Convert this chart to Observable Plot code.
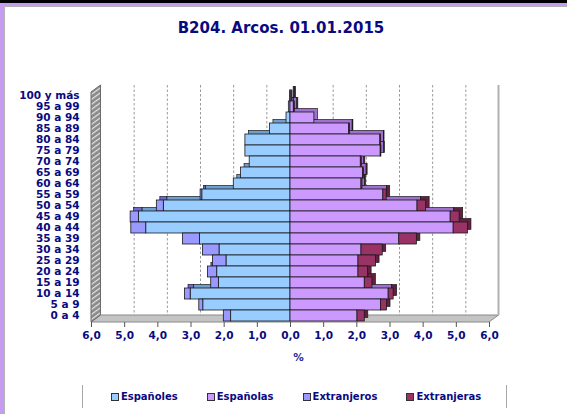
<!DOCTYPE html>
<html>
<head>
<meta charset="utf-8">
<script src="https://cdn.jsdelivr.net/npm/d3@7"></script>
<script src="https://cdn.jsdelivr.net/npm/@observablehq/plot@0.6"></script>
<style>
  html, body { margin: 0; padding: 0; background: #fff; }
  #wrap { position: relative; width: 567px; height: 414px; overflow: hidden; background: #fff;
          font-family: "DejaVu Sans", sans-serif; font-weight: bold; }
  .bar-top-black { position: absolute; left: 0; top: 0; width: 567px; height: 3px; background: #000; }
  .bar-top-lilac { position: absolute; left: 0; top: 3px; width: 567px; height: 3px; background: #c59cf2; }
  .bar-top-grey { position: absolute; left: 4px; top: 6px; width: 563px; height: 1px; background: #b4b4b4; }
  .bar-left-lilac { position: absolute; left: 0; top: 3px; width: 4px; height: 411px; background: #c59cf2; }
  .bar-left-grey { position: absolute; left: 4px; top: 6px; width: 1px; height: 408px; background: #b4b4b4; }
  #title { position: absolute; left: 0; top: 19px; width: 562px; text-align: center;
           font-size: 15px; line-height: 18px; color: #0a0a80; }
  #chart { position: absolute; left: 0; top: 40px; }
  #legend { position: absolute; left: 82px; top: 385px; width: 425px; height: 23px;
            border-left: 1.5px solid #a8a8a8; border-right: 1.5px solid #a8a8a8;
            display: flex; align-items: center; justify-content: center; gap: 29px;
            font-size: 10px; color: #0a0a80; padding-left: 3px; box-sizing: border-box; }
  .item { display: flex; align-items: center; }
  .sw { width: 6px; height: 6px; border: 1px solid #333; margin-right: 2px; }
</style>
</head>
<body>
<div id="wrap">
  <div class="bar-top-black"></div>
  <div class="bar-top-lilac"></div>
  <div class="bar-left-lilac"></div>
  <div class="bar-top-grey"></div>
  <div class="bar-left-grey"></div>
  <div id="title">B204. Arcos. 01.01.2015</div>
  <div id="chart"></div>
  <div id="legend"></div>
</div>
<script>
// ---- data (percent of population), top row first ----
const ages = ["100 y más","95 a 99","90 a 94","85 a 89","80 a 84","75 a 79","70 a 74","65 a 69","60 a 64","55 a 59","50 a 54","45 a 49","40 a 44","35 a 39","30 a 34","25 a 29","20 a 24","15 a 19","10 a 14","5 a 9","0 a 4"];
const espanoles   = [0.01,0.05,0.12,0.62,1.36,1.36,1.23,1.49,1.71,2.66,3.82,4.57,4.35,2.73,2.14,1.93,2.21,2.16,3.01,2.63,1.79];
const extranjeros = [0,0,0,0,0,0,0,0,0,0.05,0.21,0.25,0.45,0.51,0.50,0.41,0.28,0.23,0.17,0.12,0.22];
const espanolas   = [0.03,0.10,0.72,1.77,2.71,2.72,2.12,2.19,2.14,2.80,3.83,4.83,4.92,3.28,2.14,2.05,2.05,2.24,2.96,2.73,2.02];
const extranjeras = [0.03,0.03,0,0.02,0.02,0.02,0.03,0.03,0.03,0.10,0.26,0.27,0.43,0.53,0.64,0.53,0.29,0.23,0.15,0.18,0.22];
const seriesNames = ["Españoles","Españolas","Extranjeros","Extranjeras"];
const xTicks = [-6,-5,-4,-3,-2,-1,0,1,2,3,4,5,6];
const gridTicks = [-5,-4,-3,-2,-1,1,2,3,4,5];

const front = {"Españoles":"#99ccff","Españolas":"#cc99ff","Extranjeros":"#9999ff","Extranjeras":"#993366"};
const side  = {"Españoles":"#6f9fd0","Españolas":"#9f70d0","Extranjeros":"#6a6ad0","Extranjeras":"#64203f"};

// segments built from the arrays
const segs = [];
ages.forEach((age, i) => {
  const m1 = espanoles[i], m2 = extranjeros[i], f1 = espanolas[i], f2 = extranjeras[i];
  segs.push({age, series: "Españoles", x1: 0, x2: -m1});
  if (m2 > 0) segs.push({age, series: "Extranjeros", x1: -m1, x2: -(m1 + m2)});
  segs.push({age, series: "Españolas", x1: 0, x2: f1});
  if (f2 > 0) segs.push({age, series: "Extranjeras", x1: f1, x2: f1 + f2});
});

const DX = 9.5, DY = -7;   // depth of the 3D box
const H = 330;

function backdrop(index, scales, values, dimensions, context) {
  const doc = (context && context.document) || document;
  const ns = "http://www.w3.org/2000/svg";
  const {width, height, marginLeft, marginRight, marginTop, marginBottom} = dimensions;
  const sx = (scales && typeof scales.x === "function") ? scales.x
    : (v => marginLeft + (v - xTicks[0]) / (xTicks[xTicks.length-1] - xTicks[0]) * (width - marginLeft - marginRight));
  const x0 = sx(xTicks[0]), x1 = sx(xTicks[xTicks.length - 1]);
  const fb = height - marginBottom + 1.5;   // front floor edge
  const bb = fb + DY;                        // back floor edge
  const bt = marginTop - 4.5;                // back wall top
  const g = doc.createElementNS(ns, "g");
  const defs = doc.createElementNS(ns, "defs");
  defs.innerHTML = '<pattern id="hatch" width="5" height="5" patternUnits="userSpaceOnUse" patternTransform="skewY(-36)">' +
    '<rect width="5" height="5" fill="#8c8c8c"/><rect y="0" width="5" height="1.4" fill="#e6e6e6"/></pattern>';
  g.appendChild(defs);
  const poly = (pts, fill, stroke) => {
    const p = doc.createElementNS(ns, "polygon");
    p.setAttribute("points", pts.map(d => d.join(",")).join(" "));
    p.setAttribute("fill", fill);
    p.setAttribute("stroke", stroke);
    p.setAttribute("stroke-width", "1");
    g.appendChild(p);
  };
  // floor
  poly([[x0, fb], [x1, fb], [x1 + DX, bb], [x0 + DX, bb]], "#c4c4c4", "#8a8a8a");
  // left wall
  poly([[x0, fb], [x0, bt - DY], [x0 + DX, bt], [x0 + DX, bb]], "url(#hatch)", "#6a6a6a");
  // right back edge
  const l = doc.createElementNS(ns, "line");
  l.setAttribute("x1", x1 + DX); l.setAttribute("x2", x1 + DX);
  l.setAttribute("y1", bt); l.setAttribute("y2", bb);
  l.setAttribute("stroke", "#b0b0b0"); l.setAttribute("stroke-width", "2");
  g.appendChild(l);
  return g;
}

const fmt = d => Math.abs(d).toFixed(1).replace(".", ",");

const chart = Plot.plot({
  width: 567,
  height: H,
  marginLeft: 91,
  marginRight: 78,
  marginTop: 49.5,
  marginBottom: H - 280.5,
  style: {fontFamily: "DejaVu Sans", fontSize: "10.5px", fontWeight: "bold", color: "#0a0a80", background: "transparent"},
  x: {domain: [xTicks[0], xTicks[xTicks.length - 1]]},
  y: {type: "band", domain: ages, padding: 0},
  marks: [
    backdrop,
    Plot.ruleX(gridTicks, {stroke: "#9a9a9a", strokeWidth: 1, strokeDasharray: "2.5,2", dx: DX, dy: DY, insetTop: 2.5, insetBottom: -1.5}),
    Plot.barX(segs, {y: "age", x1: "x1", x2: "x2", fill: d => side[d.series], stroke: "#1a1a1a", strokeWidth: 0.7, dx: 3.5, dy: -3.5}),
    Plot.barX(segs, {y: "age", x1: "x1", x2: "x2", fill: d => front[d.series], stroke: "#1a1a1a", strokeWidth: 0.8}),
    Plot.axisY({tickSize: 0, tickPadding: 12, label: null}),
    Plot.axisX(xTicks, {tickFormat: fmt, tickSize: 5, tickPadding: 4, dy: 1.5, stroke: "#555", label: null}),
    Plot.text(["%"], {frameAnchor: "bottom", text: d => d, dx: 8, dy: 39.5, fill: "#2a2a9a", fontSize: 10.5})
  ]
});
document.getElementById("chart").appendChild(chart);

// legend
const leg = document.getElementById("legend");
seriesNames.forEach(s => {
  const it = document.createElement("div");
  it.className = "item";
  const sw = document.createElement("span");
  sw.className = "sw";
  sw.style.background = front[s];
  const tx = document.createElement("span");
  tx.textContent = s;
  it.appendChild(sw); it.appendChild(tx);
  leg.appendChild(it);
});
</script>
</body>
</html>
